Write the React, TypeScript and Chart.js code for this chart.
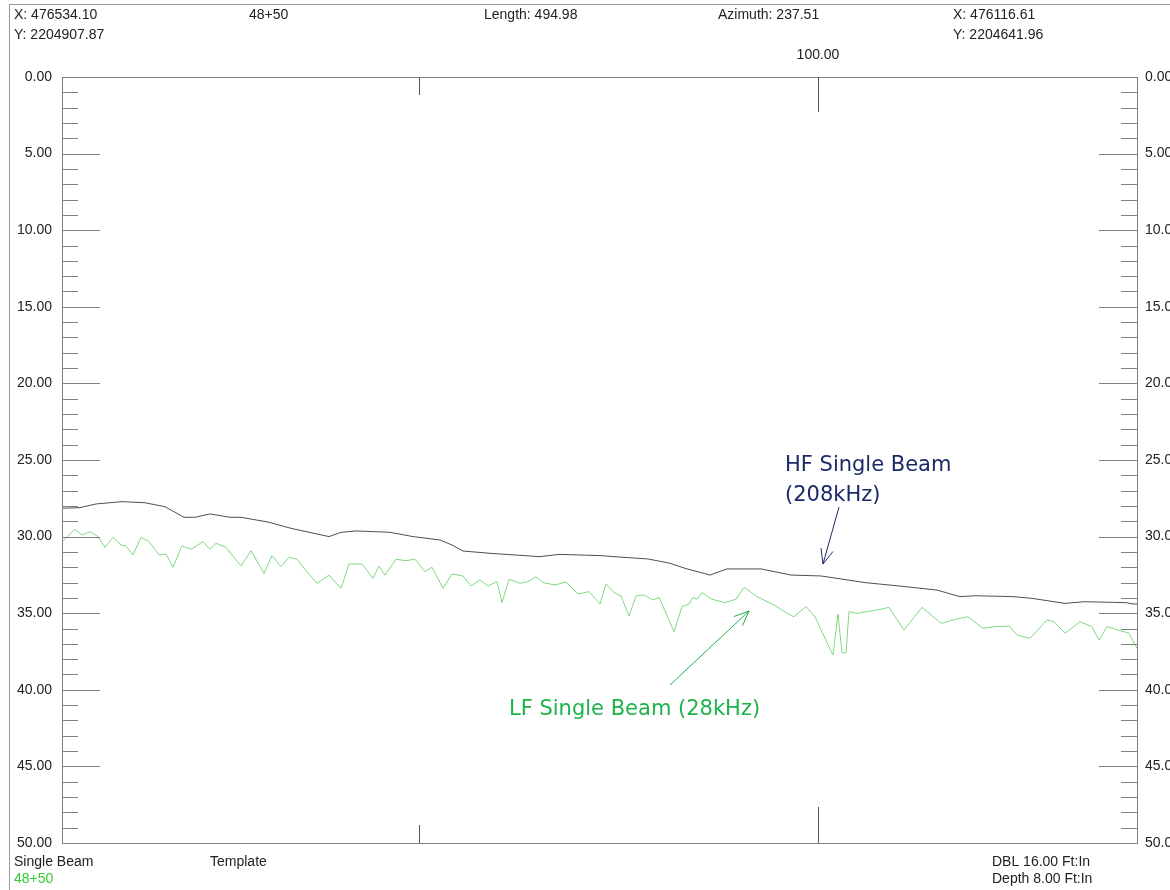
import React, { useEffect, useRef } from "react";
import { Chart, registerables } from "chart.js";
Chart.register(...registerables);

// distance along profile (plot units 0..1075) and depth values
const hfDist = [0,18,34,60,83,103,122,133,148,168,179,206,229,267,279,294,328,351,378,390,401,428,478,497,538,552,586,608,623,648,665,699,729,759,804,838,875,898,913,951,970,1003,1022,1064,1071,1075];
const hfDepth = [28.15,28.11,27.87,27.72,27.79,28.05,28.74,28.74,28.52,28.74,28.74,29.05,29.46,30.0,29.72,29.63,29.72,30.0,30.22,30.55,30.94,31.09,31.31,31.16,31.24,31.31,31.46,31.74,32.07,32.51,32.11,32.11,32.51,32.57,33.01,33.23,33.49,33.92,33.86,33.92,34.03,34.36,34.25,34.31,34.4,34.4];
const lfDist = [0,13,20,28,36,43,51,59,64,71,79,87,97,104,111,120,129,141,148,154,164,170,179,189,202,210,219,227,235,244,255,267,279,287,300,311,317,323,334,344,353,363,370,381,390,401,409,418,426,435,440,447,458,466,474,481,493,504,516,527,538,
  544,552,559,567,574,582,591,597,612,620,627,631,635,640,650,663,674,682,695,714,725,732,744,753,763,771,776,780,784,787,795,815,827,842,860,879,894,906,921,932,947,955,968,985,992,1003,1018,1030,1037,1045,1056,1067,1075];
const lfDepth = [30.33,29.53,29.9,29.68,30.0,30.7,30.05,30.55,30.61,31.2,30.05,30.33,31.2,31.14,32.0,30.61,30.83,30.33,30.83,30.44,30.7,31.2,31.92,30.92,32.4,31.24,31.96,31.35,31.48,32.22,33.05,32.51,33.38,31.79,31.79,32.72,31.92,32.51,31.48,31.57,31.48,32.29,32.0,33.38,32.44,32.57,33.22,32.83,33.22,32.94,34.31,32.79,33.05,32.94,32.62,33.0,33.16,32.96,33.75,33.59,34.4,
  33.09,33.66,33.88,35.18,33.88,33.81,34.14,33.96,36.2,34.57,34.4,33.96,34.09,33.66,34.09,34.31,34.09,33.31,33.92,34.53,35.01,35.23,34.57,35.23,36.64,37.73,35.05,37.58,37.58,34.9,35.01,34.79,34.62,36.1,34.62,35.66,35.4,35.23,35.99,35.88,35.84,36.42,36.64,35.44,35.55,36.31,35.55,35.88,36.75,35.88,36.1,36.31,37.29];
const markerDist = [357, 756];
const depthMin = 0;
const depthMax = 50;

const FONT = "14px 'Liberation Sans', Arial, sans-serif";

function arrowHead(ctx: CanvasRenderingContext2D, x1: number, y1: number, x2: number, y2: number) {
  const a = Math.atan2(y2 - y1, x2 - x1);
  const L = 16, s = 0.4;
  ctx.beginPath();
  ctx.moveTo(x2 - L * Math.cos(a - s), y2 - L * Math.sin(a - s));
  ctx.lineTo(x2, y2);
  ctx.lineTo(x2 - L * Math.cos(a + s), y2 - L * Math.sin(a + s));
  ctx.stroke();
}

const decor = {
  id: "decor",
  afterDraw(chart: any) {
    const ctx: CanvasRenderingContext2D = chart.ctx;
    const { left, right, top, bottom } = chart.chartArea;
    const y = chart.scales.y;
    const x = chart.scales.x;
    ctx.save();
    ctx.strokeStyle = "#9a9a9a";
    ctx.lineWidth = 1;
    ctx.strokeRect(9.5, 4.5, 1300, 1000);
    ctx.strokeStyle = "#808080";
    ctx.strokeRect(Math.round(left) + 0.5, Math.round(top) + 0.5, Math.round(right - left), Math.round(bottom - top));
    for (let i = depthMin; i <= depthMax; i++) {
      const py = Math.round(y.getPixelForValue(i)) + 0.5;
      const len = i % 5 === 0 ? 38 : 16;
      ctx.beginPath();
      ctx.moveTo(left, py); ctx.lineTo(left + len, py);
      ctx.moveTo(right, py); ctx.lineTo(right - len, py);
      ctx.stroke();
    }
    ctx.strokeStyle = "#555";
    const lens = [[18, 18], [35, 36]];
    markerDist.forEach((d, k) => {
      const px = Math.round(x.getPixelForValue(d)) + 0.5;
      ctx.beginPath();
      ctx.moveTo(px, top); ctx.lineTo(px, top + lens[k][0]);
      ctx.moveTo(px, bottom); ctx.lineTo(px, bottom - lens[k][1]);
      ctx.stroke();
    });
    ctx.font = FONT;
    ctx.fillStyle = "#222";
    ctx.textBaseline = "middle";
    ctx.textAlign = "left";
    ctx.fillText("X: 476534.10", 14, 15);
    ctx.fillText("Y: 2204907.87", 14, 35);
    ctx.fillText("48+50", 249, 15);
    ctx.fillText("Length: 494.98", 484, 15);
    ctx.fillText("Azimuth: 237.51", 718, 15);
    ctx.fillText("X: 476116.61", 953, 15);
    ctx.fillText("Y: 2204641.96", 953, 35);
    ctx.textAlign = "center";
    ctx.fillText("100.00", x.getPixelForValue(markerDist[1]), 55);
    ctx.textAlign = "left";
    ctx.fillText("Single Beam", 14, 862);
    ctx.fillText("Template", 210, 862);
    ctx.fillText("DBL 16.00 Ft:In", 992, 862);
    ctx.fillText("Depth 8.00 Ft:In", 992, 879);
    ctx.fillStyle = "#33cc33";
    ctx.fillText("48+50", 14, 879);

    ctx.font = "21px 'DejaVu Sans', sans-serif";
    ctx.fillStyle = "#1b2a66";
    ctx.fillText("HF Single Beam", 785, 466);
    ctx.fillText("(208kHz)", 785, 496);
    ctx.strokeStyle = "#1b2a66";
    ctx.beginPath(); ctx.moveTo(839, 507); ctx.lineTo(823, 564); ctx.stroke();
    arrowHead(ctx, 839, 507, 823, 564);
    ctx.fillStyle = "#1db34a";
    ctx.fillText("LF Single Beam (28kHz)", 509, 710);
    ctx.strokeStyle = "#1db34a";
    ctx.beginPath(); ctx.moveTo(670, 685); ctx.lineTo(749, 611); ctx.stroke();
    arrowHead(ctx, 670, 685, 749, 611);
    ctx.restore();
  },
};

export default function App() {
  const ref = useRef<HTMLCanvasElement>(null);
  useEffect(() => {
    document.body.style.margin = "0";
    const yAxis = (pos: "left" | "right", w: number, pad: number) => ({
      position: pos,
      min: depthMin,
      max: depthMax,
      reverse: true,
      grid: { display: false },
      border: { display: false },
      ticks: {
        stepSize: 1,
        autoSkip: false,
        padding: pad,
        color: "#222",
        font: { family: "'Liberation Sans', Arial, sans-serif", size: 14 },
        callback: (v: any) => (Number(v) % 5 === 0 ? Number(v).toFixed(2) : ""),
      },
      afterFit: (s: any) => { s.width = w; },
    });
    const chart = new Chart(ref.current!, {
      type: "line",
      data: {
        datasets: [
          { data: hfDist.map((d, i) => ({ x: d, y: hfDepth[i] })), borderColor: "#505050", borderWidth: 1, pointRadius: 0, yAxisID: "y" },
          { data: lfDist.map((d, i) => ({ x: d, y: lfDepth[i] })), borderColor: "#7fd87f", borderWidth: 1, pointRadius: 0, yAxisID: "y" },
        ],
      },
      options: {
        animation: false,
        responsive: false,
        devicePixelRatio: 1,
        layout: { padding: { top: 77, bottom: 47, left: 0, right: 0 } },
        plugins: { legend: { display: false }, tooltip: { enabled: false } },
        scales: {
          x: { type: "linear", min: 0, max: 1075, display: false },
          y: yAxis("left", 62, 2) as any,
          y2: yAxis("right", 33, 0) as any,
        },
      },
      plugins: [decor],
    });
    return () => chart.destroy();
  }, []);
  return <canvas ref={ref} width={1170} height={890} style={{ display: "block" }} />;
}
